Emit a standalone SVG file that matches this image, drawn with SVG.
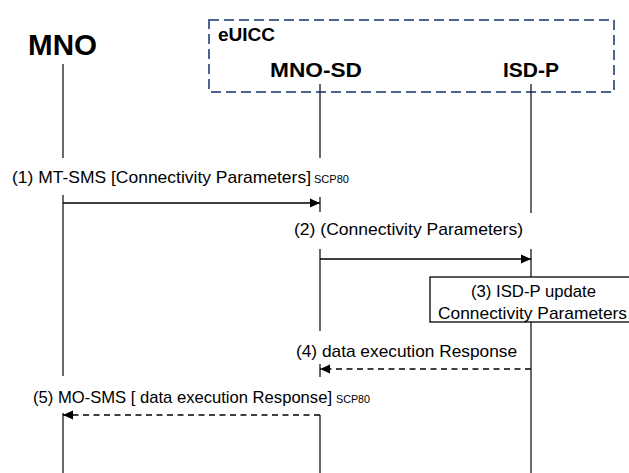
<svg xmlns="http://www.w3.org/2000/svg" width="629" height="473" viewBox="0 0 629 473">
  <style>
    .hdr { font-family: "Liberation Sans", Arial, sans-serif; font-weight: bold; fill: #000; }
    .lbl { font-family: "Liberation Sans", Arial, sans-serif; font-size: 17px; fill: #000; }
    .sub { font-family: "Liberation Sans", Arial, sans-serif; font-size: 11.5px; fill: #000; }
    .life { stroke: #1a1a1a; stroke-width: 1.3; fill: none; }
    .msg { stroke: #000; stroke-width: 1.5; fill: none; }
    .dash { stroke-dasharray: 6 4.5; }
  </style>
  <defs>
    <marker id="ah" markerUnits="userSpaceOnUse" markerWidth="11" markerHeight="10" refX="10" refY="5" orient="auto">
      <path d="M0,0.5 L10,5 L0,9.5 Z" fill="#000"/>
    </marker>
  </defs>
  <rect width="629" height="473" fill="#fff"/>

  <g id="eUICC">
    <rect x="209" y="20" width="405" height="72" fill="none" stroke="#4a6792" stroke-width="2" stroke-dasharray="10 5"/>
    <text class="hdr" x="218" y="41" font-size="19" textLength="57" lengthAdjust="spacingAndGlyphs">eUICC</text>
  </g>

  <g id="MNO">
    <text class="hdr" x="28" y="55" font-size="30" textLength="69" lengthAdjust="spacingAndGlyphs">MNO</text>
    <path class="life" d="M63,64 V158 M63,195 V376 M63,413 V473"/>
  </g>

  <g id="MNO-SD">
    <text class="hdr" x="270" y="77" font-size="21" textLength="92" lengthAdjust="spacingAndGlyphs">MNO-SD</text>
    <path class="life" d="M320,84 V158 M320,197 V212 M320,249 V331 M320,364 V377 M320,415 V473"/>
  </g>

  <g id="ISD-P">
    <text class="hdr" x="503" y="77" font-size="21" textLength="56" lengthAdjust="spacingAndGlyphs">ISD-P</text>
    <path class="life" d="M531,84 V213 M531,249 V473"/>
  </g>

  <g id="step3">
    <rect x="430" y="277" width="205" height="45" fill="#fff" stroke="#000" stroke-width="1.3"/>
    <text class="lbl" x="471" y="297" textLength="125" lengthAdjust="spacingAndGlyphs">(3) ISD-P update</text>
    <text class="lbl" x="438" y="319" textLength="189" lengthAdjust="spacingAndGlyphs">Connectivity Parameters</text>
  </g>

  <g id="connectors">
    <text class="lbl" x="12" y="183" textLength="299" lengthAdjust="spacingAndGlyphs">(1) MT-SMS [Connectivity Parameters]</text>
    <text class="sub" x="314" y="183" textLength="35" lengthAdjust="spacingAndGlyphs">SCP80</text>
    <line class="msg" x1="63" y1="203" x2="320" y2="203" marker-end="url(#ah)"/>

    <text class="lbl" x="294" y="235" textLength="229" lengthAdjust="spacingAndGlyphs">(2) (Connectivity Parameters)</text>
    <line class="msg" x1="320" y1="259" x2="531" y2="259" marker-end="url(#ah)"/>

    <text class="lbl" x="296" y="357" textLength="221" lengthAdjust="spacingAndGlyphs">(4) data execution Response</text>
    <line class="msg dash" x1="531" y1="369" x2="320" y2="369" marker-end="url(#ah)"/>

    <text class="lbl" x="33" y="403" textLength="299" lengthAdjust="spacingAndGlyphs">(5) MO-SMS [ data execution Response]</text>
    <text class="sub" x="336" y="403" textLength="34" lengthAdjust="spacingAndGlyphs">SCP80</text>
    <line class="msg dash" x1="320" y1="415" x2="63" y2="415" marker-end="url(#ah)"/>
  </g>
</svg>
